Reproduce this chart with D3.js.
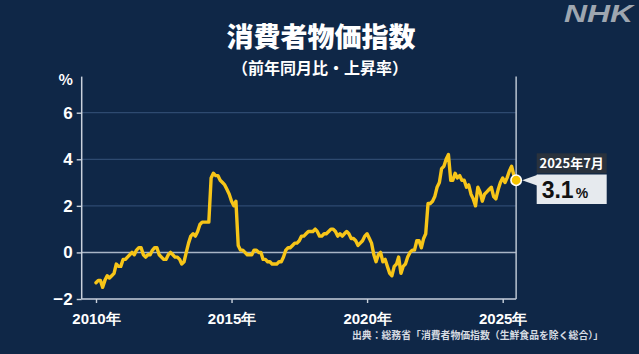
<!DOCTYPE html>
<html><head><meta charset="utf-8">
<script src="https://cdn.jsdelivr.net/npm/d3@7"></script>
<style>
html,body{margin:0;padding:0;background:#0f2747;}
svg{display:block;font-family:"Noto Sans CJK JP","Noto Sans",sans-serif;}
</style></head>
<body><svg id="c" width="639" height="354"></svg>
<script>
// ---- data ----
const startYear = 2010;
const cpiValues = [
  // 2010
  -1.3,-1.2,-1.2,-1.5,-1.2,-1.0,-1.1,-1.0,-0.9,-0.5,-0.6,-0.6,
  // 2011
  -0.3,-0.3,-0.2,-0.1,0.0,-0.1,0.1,0.2,0.2,-0.1,-0.2,-0.1,
  // 2012
  -0.1,0.1,0.2,0.2,-0.1,-0.2,-0.3,-0.3,-0.1,0.0,-0.1,-0.2,
  // 2013
  -0.2,-0.3,-0.5,-0.4,0.0,0.4,0.7,0.8,0.7,0.9,1.2,1.3,
  // 2014
  1.3,1.3,1.3,3.2,3.4,3.3,3.3,3.1,3.0,2.9,2.7,2.5,
  // 2015
  2.2,2.0,2.2,0.3,0.1,0.1,0.0,-0.1,-0.1,-0.1,0.1,0.1,
  // 2016
  0.0,0.0,-0.3,-0.3,-0.4,-0.4,-0.5,-0.5,-0.5,-0.4,-0.4,-0.2,
  // 2017
  0.1,0.2,0.2,0.3,0.4,0.4,0.5,0.7,0.7,0.8,0.9,0.9,
  // 2018
  0.9,1.0,0.9,0.7,0.7,0.8,0.8,0.9,1.0,1.0,0.9,0.7,
  // 2019
  0.8,0.7,0.8,0.9,0.8,0.6,0.6,0.5,0.3,0.4,0.5,0.7,
  // 2020
  0.8,0.6,0.4,-0.1,-0.4,-0.1,0.0,-0.4,-0.3,-0.6,-0.9,-1.0,
  // 2021
  -0.6,-0.5,-0.2,-0.9,-0.6,-0.5,-0.2,0.0,0.1,0.1,0.5,0.5,
  // 2022
  0.2,0.6,0.8,2.1,2.1,2.2,2.4,2.8,3.0,3.6,3.7,4.0,
  // 2023
  4.2,3.1,3.1,3.4,3.2,3.3,3.1,3.1,2.8,2.9,2.5,2.3,
  // 2024
  2.0,2.8,2.6,2.2,2.5,2.6,2.7,2.8,2.4,2.3,2.7,3.0,
  // 2025
  3.2,3.0,3.2,3.5,3.7,3.3,3.1
];
const xTickYears = [2010, 2015, 2020, 2025];
const yTickValues = [-2, 0, 2, 4, 6];
const gridValues = [2, 4, 6];
const titleText = "消費者物価指数";
const subtitleText = "（前年同月比・上昇率）";
const sourceText = "出典：総務省「消費者物価指数（生鮮食品を除く総合）」";
const calloutLabel = "2025年7月";
const calloutValue = "3.1";

const data = cpiValues.map((v, i) => ({date: new Date(startYear, i, 1), value: v}));
const last = data[data.length - 1];

// ---- scales ----
const svg = d3.select("#c");
const x = d3.scaleTime()
  .domain([new Date(2010, 0, 1), new Date(2025, 0, 1)])
  .range([96, 502.7]);
const y = d3.scaleLinear().domain([-2, 6]).range([299, 112.7]);
const axisTop = y(7.55);
const plotLeft = 81.7;
const xLast = x(last.date);

// grid
svg.append("g").selectAll("line").data(gridValues).join("line")
  .attr("x1", plotLeft).attr("x2", xLast)
  .attr("y1", d => y(d)).attr("y2", d => y(d))
  .attr("stroke", "#2e4a70").attr("stroke-width", 1.2);
// zero line
svg.append("line").attr("x1", plotLeft).attr("x2", xLast)
  .attr("y1", y(0)).attr("y2", y(0))
  .attr("stroke", "#a9b5c6").attr("stroke-width", 1.4);

// y axis
const yAxis = d3.axisLeft(y).tickValues(yTickValues).tickSize(5).tickPadding(4).tickFormat(d3.format("d"));
const gy = svg.append("g").attr("transform", `translate(${plotLeft},0)`).call(yAxis);
gy.select(".domain").remove();
gy.selectAll(".tick line").attr("stroke", "#c9d1dc").attr("stroke-width", 1.4);
gy.selectAll(".tick text").attr("fill", "#ffffff").attr("font-size", 17).attr("font-weight", 700)
  .attr("font-family", "'Liberation Sans','Noto Sans',sans-serif");
svg.append("line").attr("x1", plotLeft).attr("x2", plotLeft).attr("y1", axisTop).attr("y2", y(-2))
  .attr("stroke", "#c9d1dc").attr("stroke-width", 1.5);

// x axis
const xAxis = d3.axisBottom(x).tickValues(xTickYears.map(yr => new Date(yr, 0, 1)))
  .tickSize(4).tickPadding(10).tickFormat(d => d.getFullYear() + "年");
const gx = svg.append("g").attr("transform", `translate(0,${y(-2)})`).call(xAxis);
gx.select(".domain").remove();
gx.selectAll(".tick line").attr("stroke", "#c9d1dc").attr("stroke-width", 1.4);
gx.selectAll(".tick text").attr("fill", "#ffffff").attr("font-size", 15).attr("font-weight", 700);
svg.append("line").attr("x1", plotLeft).attr("x2", xLast).attr("y1", y(-2)).attr("y2", y(-2))
  .attr("stroke", "#c9d1dc").attr("stroke-width", 1.5);

// right marker line
svg.append("line").attr("x1", xLast).attr("x2", xLast).attr("y1", axisTop).attr("y2", y(-2))
  .attr("stroke", "#b9c3d1").attr("stroke-width", 1.5);

// % label
svg.append("text").attr("x", 73).attr("y", 85).attr("text-anchor", "end")
  .attr("fill", "#fff").attr("font-size", 15).attr("font-weight", 700).text("%");

// line
const line = d3.line().x(d => x(d.date)).y(d => y(d.value)).curve(d3.curveLinear);
svg.append("path").datum(data).attr("d", line)
  .attr("fill", "none").attr("stroke", "#f7c518").attr("stroke-width", 3.4)
  .attr("stroke-linejoin", "round").attr("stroke-linecap", "round");

// end dot
svg.append("circle").attr("cx", xLast).attr("cy", y(last.value)).attr("r", 5.2)
  .attr("fill", "#f7c400").attr("stroke", "#ffffff").attr("stroke-width", 1.6);

// callout
const bx = 536.7, bw = 70;
const cy = y(last.value);
svg.append("path")
  .attr("d", `M${xLast + 6},${cy} L${bx + 1},${cy - 5.5} L${bx + 1},${cy + 5.5} Z`)
  .attr("fill", "#e4e8ec");
svg.append("rect").attr("x", bx).attr("y", 153.3).attr("width", bw).attr("height", 20)
  .attr("fill", "#2a323d");
svg.append("text").attr("x", bx + bw / 2).attr("y", 168).attr("text-anchor", "middle")
  .attr("fill", "#fff").attr("font-size", 13).attr("font-weight", 700).text(calloutLabel);
svg.append("rect").attr("x", bx).attr("y", 174.5).attr("width", bw).attr("height", 29.5)
  .attr("fill", "#e6eaee");
const vt = svg.append("text").attr("x", bx + 5).attr("y", 198.3).attr("fill", "#111")
  .attr("font-family", "'Liberation Sans','Noto Sans',sans-serif").attr("font-weight", 700);
vt.append("tspan").attr("font-size", 23).text(calloutValue);
vt.append("tspan").attr("font-size", 14).attr("dx", 2).text("%");

// titles
svg.append("text").attr("x", 321).attr("y", 47).attr("text-anchor", "middle")
  .attr("fill", "#fff").attr("font-size", 27).attr("font-weight", 900).text(titleText);
svg.append("text").attr("x", 320).attr("y", 74).attr("text-anchor", "middle")
  .attr("fill", "#fff").attr("font-size", 16).attr("font-weight", 700).text(subtitleText);

// NHK logo text
svg.append("text").attr("x", 564).attr("y", 22).attr("fill", "#9ea6b0")
  .attr("font-family", "'Liberation Sans',sans-serif").attr("font-size", 24)
  .attr("font-weight", 700).attr("font-style", "italic")
  .attr("textLength", 69).attr("lengthAdjust", "spacingAndGlyphs").text("NHK");

// source
svg.append("text").attr("x", 352).attr("y", 339).attr("fill", "#d6dbe2")
  .attr("font-size", 10).attr("font-weight", 700)
  .attr("textLength", 251).attr("lengthAdjust", "spacingAndGlyphs").text(sourceText);
</script></body></html>
